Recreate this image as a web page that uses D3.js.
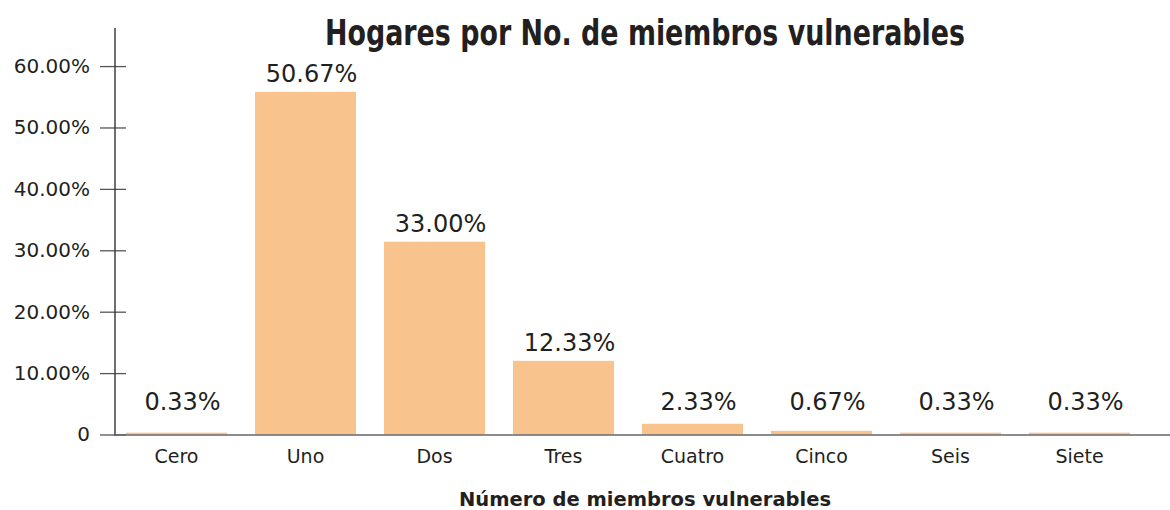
<!DOCTYPE html>
<html>
<head>
<meta charset="utf-8">
<script src="https://cdn.jsdelivr.net/npm/d3@7"></script>
<style>
  body { margin: 0; background: #fff; }
  svg { display: block; }
</style>
</head>
<body>
<div id="chart"></div>
<script>
// categories and values (bar heights, labels as printed)
const categories = ["Cero", "Uno", "Dos", "Tres", "Cuatro", "Cinco", "Seis", "Siete"];
const barValues = [0.3, 55.8, 31.4, 12.0, 1.75, 0.6, 0.3, 0.3];
const barLabels = ["0.33%", "50.67%", "33.00%", "12.33%", "2.33%", "0.67%", "0.33%", "0.33%"];
const yTicks = [0, 10, 20, 30, 40, 50, 60];

const width = 1170;
const height = 510;
const axisX = 115;
const baseY = 434.5;
const topY = 28;
const bar_color = "#F9C38D";
const text_color = "#231F20";

var svg = d3.select("#chart").append("svg")
	.attr("width", width)
	.attr("height", height);

var x = d3.scaleBand()
	.domain(categories)
	.range([112, 112 + 8 * 129])
	.paddingInner(0.217)
	.paddingOuter(0.1085);

var y = d3.scaleLinear()
	.domain([0, 66.2])
	.range([baseY, topY]);

// bars
svg.append("g")
	.selectAll("rect")
	.data(categories)
	.join("rect")
	.attr("x", d => x(d))
	.attr("width", x.bandwidth())
	.attr("y", (d, i) => y(barValues[i]))
	.attr("height", (d, i) => baseY - y(barValues[i]))
	.attr("fill", bar_color);

// y axis
const yAxis = svg.append("g")
	.attr("transform", `translate(${axisX},0)`)
	.call(d3.axisLeft(y)
		.tickValues(yTicks)
		.tickSizeInner(15)
		.tickSizeOuter(0)
		.tickPadding(10)
		.tickFormat(d => d === 0 ? "0" : d3.format(".2f")(d) + "%"));

yAxis.select(".domain").remove();
yAxis.selectAll(".tick line")
	.attr("x2", 11)
	.attr("x1", -15)
	.attr("stroke", "#555")
	.attr("stroke-width", 1.3);
yAxis.selectAll(".tick text")
	.attr("fill", text_color)
	.style("font-family", "'DejaVu Sans', sans-serif")
	.style("font-size", "20px");

svg.append("line")
	.attr("x1", axisX).attr("x2", axisX)
	.attr("y1", topY).attr("y2", baseY + 1)
	.attr("stroke", "#333")
	.attr("stroke-width", 1.4);

// x baseline
svg.append("line")
	.attr("x1", axisX).attr("x2", width)
	.attr("y1", baseY + 0.5).attr("y2", baseY + 0.5)
	.attr("stroke", "#666")
	.attr("stroke-width", 1.6);

// category labels
svg.append("g")
	.selectAll("text")
	.data(categories)
	.join("text")
	.attr("x", d => x(d) + x.bandwidth() / 2)
	.attr("y", 463)
	.attr("text-anchor", "middle")
	.attr("fill", text_color)
	.style("font-family", "'DejaVu Sans', sans-serif")
	.style("font-size", "19px")
	.text(d => d);

// value labels
svg.append("g")
	.selectAll("text")
	.data(categories)
	.join("text")
	.attr("x", d => x(d) + x.bandwidth() / 2 + 6)
	.attr("y", (d, i) => Math.min(y(barValues[i]) - 10, 410))
	.attr("text-anchor", "middle")
	.attr("fill", text_color)
	.style("font-family", "'DejaVu Sans', sans-serif")
	.style("font-size", "24px")
	.text((d, i) => barLabels[i]);

// title
svg.append("text")
	.attr("x", 645)
	.attr("y", 45)
	.attr("text-anchor", "middle")
	.attr("fill", text_color)
	.attr("textLength", 640)
	.attr("lengthAdjust", "spacingAndGlyphs")
	.style("font-family", "'DejaVu Sans Condensed', sans-serif")
	.style("font-weight", "bold")
	.style("font-size", "36px")
	.text("Hogares por No. de miembros vulnerables");

// x axis title
svg.append("text")
	.attr("x", 645)
	.attr("y", 506)
	.attr("text-anchor", "middle")
	.attr("fill", text_color)
	.style("font-family", "'DejaVu Sans', sans-serif")
	.style("font-weight", "bold")
	.style("font-size", "19.5px")
	.text("Número de miembros vulnerables");
</script>
</body>
</html>
